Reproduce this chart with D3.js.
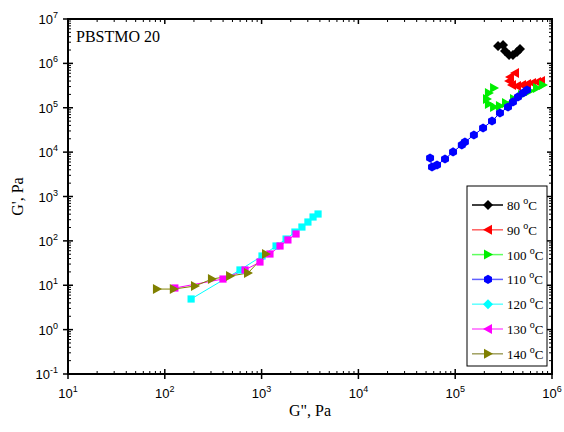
<!DOCTYPE html>
<html><head><meta charset="utf-8">
<script src="https://cdn.jsdelivr.net/npm/d3@7"></script>
<style>body{margin:0;background:#fff}svg{display:block}</style>
</head><body>
<svg id="c" width="564" height="432"></svg>
<script>
const seriesNames = ["80 oC","90 oC","100 oC","110 oC","120 oC","130 oC","140 oC"];
const legendTemps = ["80","90","100","110","120","130","140"];
const colors = ["#000000","#ff0000","#00ee00","#0000ff","#00ffff","#ff00ff","#808000"];
const lineColors = ["#000000","#ff6060","#60ff60","#6060ff","#60ffff","#ff60ff","#a0a060"];
const plotSymbols = ["diamond","tleft","tright","hex","square","square","tright"];
const legendSymbols = ["diamond","tleft","tright","hex","diamond","tleft","tright"];

const g2_80 = [2.77e5,3.12e5,3.27e5,3.6e5,3.95e5,4.35e5,4.67e5];
const g1_80 = [2.47e6,2.59e6,1.9e6,1.55e6,1.55e6,1.8e6,2.11e6];
const g2_90 = [4.15e5,3.68e5,3.6e5,3.86e5,4.35e5,4.9e5,5.52e5,6.21e5,7.0e5,7.7e5];
const g1_90 = [6.07e5,4.93e5,4.01e5,3.26e5,3.09e5,3.26e5,3.43e5,3.61e5,3.8e5,4.01e5];
const g2_100 = [2.52e5,2.23e5,2.13e5,2.23e5,2.52e5,2.9e5,3.35e5,4.05e5,4.9e5,5.93e5,7.0e5,8.07e5];
const g1_100 = [2.79e5,2.15e5,1.57e5,1.22e5,1.04e5,1.09e5,1.28e5,1.57e5,1.94e5,2.38e5,2.79e5,3.26e5];
const g2_110 = [5.5e4,5.76e4,6.49e4,7.85e4,9.5e4,1.17e5,1.26e5,1.56e5,1.94e5,2.4e5,2.9e5,3.51e5,3.95e5,4.45e5,5.01e5,5.52e5];
const g1_110 = [7.37e3,4.62e3,5.13e3,7.0e3,1.01e4,1.45e4,1.69e4,2.43e4,3.5e4,5.03e4,7.62e4,1.04e5,1.35e5,1.75e5,2.15e5,2.51e5];
const g2_120 = [187,598,1010,1410,1790,2210,2610,3010,3400,3830];
const g1_120 = [4.9,22.1,45.6,76.7,110,158,205,266,345,403];
const g2_130 = [127,399,674,962,1220,1550,1870,2270];
const g1_130 = [8.67,13.8,22.1,33.4,50.6,76.7,105,143];
const g2_140 = [83,124,205,307,472,724,1110];
const g1_140 = [8.2,8.2,9.6,13.8,16.1,18.9,50.6];

const xs = [g2_80,g2_90,g2_100,g2_110,g2_120,g2_130,g2_140];
const ys = [g1_80,g1_90,g1_100,g1_110,g1_120,g1_130,g1_140];

const xTickExp = [1,2,3,4,5,6];
const yTickExp = [-1,0,1,2,3,4,5,6,7];

const L=68,R=552,T=19,B=374;
const x = d3.scaleLog().domain([10,1e6]).range([L,R]);
const y = d3.scaleLog().domain([0.1,1e7]).range([B,T]);
const svg = d3.select("#c");

function sym(type, s){
  if(type==="diamond") return `M0,${-s}L${s},0L0,${s}L${-s},0Z`;
  if(type==="square") return `M${-s*0.8},${-s*0.8}h${1.6*s}v${1.6*s}h${-1.6*s}Z`;
  if(type==="tleft") return `M${-s},0L${s*0.8},${-s}L${s*0.8},${s}Z`;
  if(type==="tright") return `M${s},0L${-s*0.8},${-s}L${-s*0.8},${s}Z`;
  if(type==="hex"){let p=[];for(let i=0;i<6;i++){const a=Math.PI/3*i+Math.PI/6;p.push([s*Math.cos(a),s*Math.sin(a)]);}return "M"+p.map(q=>q.join(",")).join("L")+"Z";}
}

const minors=[];
for(let e=-1;e<7;e++) for(let m=2;m<=9;m++) minors.push(m*Math.pow(10,e));
const minorsX=[];
for(let e=1;e<6;e++) for(let m=2;m<=9;m++) minorsX.push(m*Math.pow(10,e));
const ax = svg.append("g").attr("stroke","#000");
minorsX.forEach(v=>{
  ax.append("line").attr("x1",x(v)).attr("x2",x(v)).attr("y1",B).attr("y2",B-3).attr("stroke-width",1);
  ax.append("line").attr("x1",x(v)).attr("x2",x(v)).attr("y1",T).attr("y2",T+3).attr("stroke-width",1);
});
minors.forEach(v=>{
  ax.append("line").attr("y1",y(v)).attr("y2",y(v)).attr("x1",L).attr("x2",L+3).attr("stroke-width",1);
  ax.append("line").attr("y1",y(v)).attr("y2",y(v)).attr("x1",R).attr("x2",R-3).attr("stroke-width",1);
});
xTickExp.forEach(e=>{
  const v=Math.pow(10,e);
  ax.append("line").attr("x1",x(v)).attr("x2",x(v)).attr("y1",B).attr("y2",B+5).attr("stroke-width",1.5);
  ax.append("line").attr("x1",x(v)).attr("x2",x(v)).attr("y1",B).attr("y2",B-5).attr("stroke-width",1.5);
  ax.append("line").attr("x1",x(v)).attr("x2",x(v)).attr("y1",T).attr("y2",T+5).attr("stroke-width",1.5);
});
yTickExp.forEach(e=>{
  const v=Math.pow(10,e);
  ax.append("line").attr("y1",y(v)).attr("y2",y(v)).attr("x1",L).attr("x2",L-5).attr("stroke-width",1.5);
  ax.append("line").attr("y1",y(v)).attr("y2",y(v)).attr("x1",L).attr("x2",L+5).attr("stroke-width",1.5);
  ax.append("line").attr("y1",y(v)).attr("y2",y(v)).attr("x1",R).attr("x2",R-5).attr("stroke-width",1.5);
});
svg.append("rect").attr("x",L).attr("y",T).attr("width",R-L).attr("height",B-T)
  .attr("fill","none").attr("stroke","#000").attr("stroke-width",2);

const tf = "'Liberation Sans', Arial, sans-serif";
xTickExp.forEach(e=>{
  const t=svg.append("text").attr("x",x(Math.pow(10,e))).attr("y",B+24).attr("text-anchor","middle")
    .attr("font-family",tf).attr("font-size",13);
  t.append("tspan").text("10");
  t.append("tspan").attr("dy",-6).attr("font-size",9).text(e);
});
yTickExp.forEach(e=>{
  const t=svg.append("text").attr("x",L-10).attr("y",y(Math.pow(10,e))+5).attr("text-anchor","end")
    .attr("font-family",tf).attr("font-size",13);
  t.append("tspan").text("10");
  t.append("tspan").attr("dy",-6).attr("font-size",9).text(e);
});

const serif="'Liberation Serif', 'Times New Roman', serif";
svg.append("text").attr("x",(L+R)/2).attr("y",416).attr("text-anchor","middle")
  .attr("font-family",serif).attr("font-size",16).text("G\", Pa");
svg.append("text").attr("transform",`translate(23,${(T+B)/2}) rotate(-90)`).attr("text-anchor","middle")
  .attr("font-family",serif).attr("font-size",16).text("G', Pa");
svg.append("text").attr("x",76).attr("y",42).attr("font-family",serif).attr("font-size",16).text("PBSTMO 20");

const line=d3.line().x(d=>x(d[0])).y(d=>y(d[1]));
const plot = svg.append("g");
const sizes={diamond:5,square:4.5,tleft:5,tright:5,hex:4.6};
xs.forEach((xv,i)=>{
  const pts = xv.map((v,j)=>[v,ys[i][j]]);
  plot.append("path").attr("d",line(pts)).attr("fill","none").attr("stroke",colors[i]).attr("stroke-width",1);
});
xs.forEach((xv,i)=>{
  const pts = xv.map((v,j)=>[v,ys[i][j]]);
  plot.selectAll(null).data(pts).enter().append("path")
    .attr("transform",d=>`translate(${x(d[0])},${y(d[1])})`)
    .attr("d",sym(plotSymbols[i],sizes[plotSymbols[i]])).attr("fill",colors[i]);
});

const lg = svg.append("g");
lg.append("rect").attr("x",467).attr("y",186).attr("width",80).attr("height",180)
  .attr("fill","#fff").attr("stroke","#000").attr("stroke-width",1);
legendTemps.forEach((tp,i)=>{
  const yy=205+i*24.8;
  lg.append("line").attr("x1",472).attr("x2",503).attr("y1",yy).attr("y2",yy).attr("stroke",lineColors[i]).attr("stroke-width",1.5);
  lg.append("path").attr("transform",`translate(488,${yy})`).attr("d",sym(legendSymbols[i],sizes[legendSymbols[i]])).attr("fill",colors[i]);
  const t=lg.append("text").attr("x",507).attr("y",yy+5).attr("font-family",serif).attr("font-size",13);
  t.append("tspan").text(tp+" ");
  t.append("tspan").attr("dy",-6).attr("font-size",10).text("o");
  t.append("tspan").attr("dy",6).text("C");
});
</script>
</body></html>
